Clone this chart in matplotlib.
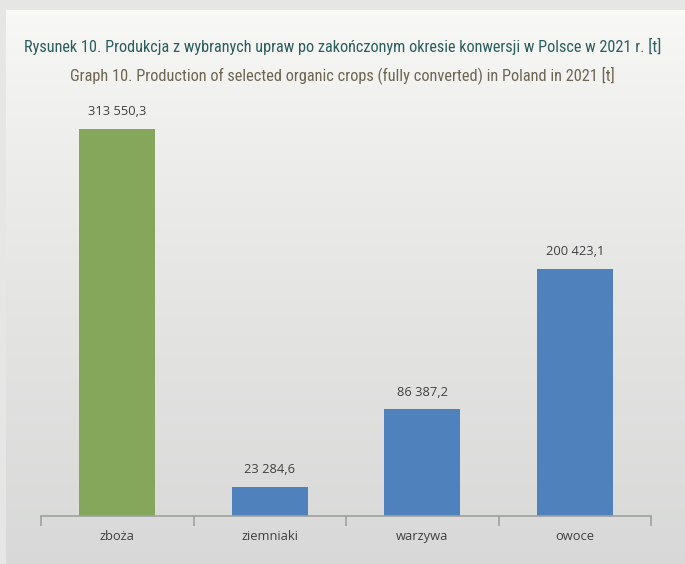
import matplotlib.pyplot as plt
import numpy as np

categories = ["zboża", "ziemniaki", "warzywa", "owoce"]
values = [313550.3, 23284.6, 86387.2, 200423.1]
bar_colors = ["#84a75c", "#4f81bd", "#4f81bd", "#4f81bd"]

TITLE_PL = "Rysunek 10. Produkcja z wybranych upraw po zakończonym okresie konwersji w Polsce w 2021 r. [t]"
TITLE_EN = "Graph 10. Production of selected organic crops (fully converted) in Poland in 2021 [t]"

LABEL_FONT = ["Open Sans", "DejaVu Sans"]
TITLE_FONT = ["Roboto Condensed", "Liberation Sans Narrow", "Roboto", "DejaVu Sans"]


def fmt(v):
    # Polish style: space as thousands separator, comma as decimal mark
    s = f"{v:,.1f}"
    return s.replace(",", " ").replace(".", ",")


fig = plt.figure(figsize=(6.85, 5.64), dpi=100, facecolor="#e6e6e4")

# soft gradient panel behind the chart
bg = fig.add_axes([0.009, 0.0, 0.991, 0.982], zorder=0)
grad = np.linspace(0, 1, 256).reshape(-1, 1)
top = np.array([0.975, 0.975, 0.965])
bottom = np.array([0.845, 0.85, 0.845])
img = top + (bottom - top) * grad[:, :, None] ** 0.8
bg.imshow(img, aspect="auto", extent=[0, 1, 0, 1], origin="upper")
bg.set_axis_off()

ax = fig.add_axes([0.0599, 0.0851, 0.8905, 0.7376], zorder=1)
ax.patch.set_alpha(0)

x = np.arange(len(categories))
ax.bar(x, values, width=0.5, color=bar_colors)

for xi, v in zip(x, values):
    ax.annotate(fmt(v), (xi, v), xytext=(0, 12.5), textcoords="offset points",
                ha="center", va="center", fontsize=9.3, color="#404040",
                family=LABEL_FONT)

ax.set_xlim(-0.5, 3.5)
ax.set_ylim(0, 337000)

for side in ["left", "right", "top"]:
    ax.spines[side].set_visible(False)
ax.spines["bottom"].set_color("#a0a0a0")
ax.spines["bottom"].set_linewidth(1.2)

ax.set_yticks([])
ax.set_xticks(np.arange(-0.5, 4, 1.0), minor=False)
ax.set_xticklabels([])
ax.tick_params(axis="x", which="major", length=7, width=1.2, color="#a0a0a0")
ax.set_xticks(x, minor=True)
ax.set_xticklabels(categories, minor=True, fontsize=9.3, color="#404040",
                   family=LABEL_FONT)
ax.tick_params(axis="x", which="minor", length=0, pad=10)

# two-line title in a narrow face; shrink to the target width if needed
t1 = fig.text(0.5, 0.918, TITLE_PL, ha="center", va="center", fontsize=14,
              color="#2c5d60", family=TITLE_FONT, fontstretch="condensed")
t2 = fig.text(0.5, 0.867, TITLE_EN, ha="center", va="center", fontsize=14,
              color="#6e6552", family=TITLE_FONT, fontstretch="condensed")
renderer = fig.canvas.get_renderer()
for t, target in [(t1, 644), (t2, 551)]:
    w = t.get_window_extent(renderer).width
    if w > target:
        t.set_fontsize(14 * target / w)

fig.savefig("out.png", dpi=100, facecolor=fig.get_facecolor())
